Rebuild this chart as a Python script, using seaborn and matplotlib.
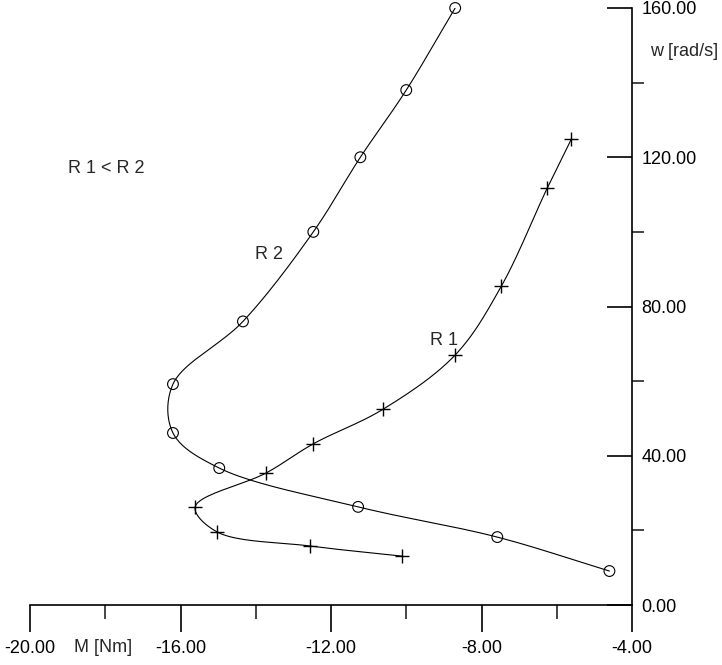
import numpy as np
import matplotlib
matplotlib.use("Agg")
import matplotlib.pyplot as plt
from matplotlib.ticker import FixedLocator
import seaborn as sns

# torque M [Nm] and speed w [rad/s]
r2_m = [-8.70, -10.00, -11.22, -12.47, -14.34, -16.20, -16.20, -14.97, -11.28, -7.58, -4.60]
r2_w = [160.0, 138.0, 120.0, 100.0, 76.0, 59.2, 46.1, 36.7, 26.3, 18.2, 9.1]
r1_m = [-5.61, -6.25, -7.47, -8.70, -10.61, -12.47, -13.72, -15.61, -15.03, -12.55, -10.11]
r1_w = [124.9, 111.8, 85.5, 67.0, 52.5, 43.2, 35.4, 26.3, 19.6, 15.8, 13.1]

x_major = [-20, -16, -12, -8, -4]
x_minor = [-18, -14, -10, -6]
y_major = [0, 40, 80, 120, 160]
y_minor = [20, 60, 100, 140]


def smooth(xs, ys, n=24):
    # centripetal catmull-rom through the points (y scaled to match screen aspect)
    p = np.column_stack([np.asarray(xs, float), np.asarray(ys, float) * 0.1])
    p = np.vstack([2 * p[0] - p[1], p, 2 * p[-1] - p[-2]])
    out = []
    for i in range(1, len(p) - 2):
        p0, p1, p2, p3 = p[i - 1], p[i], p[i + 1], p[i + 2]
        t0 = 0.0
        t1 = t0 + np.linalg.norm(p1 - p0) ** 0.5
        t2 = t1 + np.linalg.norm(p2 - p1) ** 0.5
        t3 = t2 + np.linalg.norm(p3 - p2) ** 0.5
        t = np.linspace(t1, t2, n)[:, None]
        a1 = (t1 - t) / (t1 - t0) * p0 + (t - t0) / (t1 - t0) * p1
        a2 = (t2 - t) / (t2 - t1) * p1 + (t - t1) / (t2 - t1) * p2
        a3 = (t3 - t) / (t3 - t2) * p2 + (t - t2) / (t3 - t2) * p3
        b1 = (t2 - t) / (t2 - t0) * a1 + (t - t0) / (t2 - t0) * a2
        b2 = (t3 - t) / (t3 - t1) * a2 + (t - t1) / (t3 - t1) * a3
        c = (t2 - t) / (t2 - t1) * b1 + (t - t1) / (t2 - t1) * b2
        out.append(c)
    c = np.vstack(out)
    return c[:, 0], c[:, 1] / 0.1


sns.set_style("white")
plt.rcParams['font.family'] = ['Liberation Sans', 'DejaVu Sans']

fig = plt.figure(figsize=(7.22, 6.65), dpi=100)
ax = fig.add_axes([30 / 722, 60 / 665, 602 / 722, 597 / 665])

for xs, ys, mk, size in [(r2_m, r2_w, 'o', 60), (r1_m, r1_w, '+', 110)]:
    sx, sy = smooth(xs, ys)
    sns.lineplot(x=sx, y=sy, sort=False, color='black', linewidth=0.8, ax=ax,
                 estimator=None)
    if mk == 'o':
        sns.scatterplot(x=xs, y=ys, marker='o', s=size, facecolors='none',
                        edgecolor='black', linewidth=0.8, ax=ax, clip_on=False, zorder=3)
    else:
        sns.scatterplot(x=xs, y=ys, marker='+', s=size, color='black',
                        linewidth=1.0, ax=ax, clip_on=False, zorder=3)

ax.set_xlim(-20, -4)
ax.set_ylim(0, 160)

for s in ['top', 'left']:
    ax.spines[s].set_visible(False)
for s in ['bottom', 'right']:
    ax.spines[s].set_linewidth(1.2)
    ax.spines[s].set_color('black')

ax.xaxis.set_major_locator(FixedLocator(x_major))
ax.xaxis.set_minor_locator(FixedLocator(x_minor))
ax.yaxis.set_major_locator(FixedLocator(y_major))
ax.yaxis.set_minor_locator(FixedLocator(y_minor))
ax.yaxis.tick_right()

ax.set_xticklabels([f"{v:.2f}" for v in x_major])
ax.set_yticklabels([f"{v:.2f}" for v in y_major])

ax.tick_params(axis='x', which='major', direction='out', length=19.5, width=1.2,
               pad=6, labelsize=13, colors='black', bottom=True)
ax.tick_params(axis='x', which='minor', direction='out', length=10, width=1.2, bottom=True)
ax.tick_params(axis='y', which='major', direction='in', length=18, width=1.2,
               pad=7, labelsize=13, colors='black', right=True, left=False)
ax.tick_params(axis='y', which='minor', direction='out', length=8.5, width=1.2,
               right=True, left=False)
for lbl in ax.get_yticklabels():
    lbl.set_verticalalignment('center_baseline')

fig.text(103 / 722, 1 - 648 / 665, "M [Nm]", fontsize=13, ha='center', va='center')
fig.text(684 / 722, 1 - 52 / 665, "w [rad/s]", fontsize=13, ha='center', va='center')

ax.text(-18.99, 117, "R 1 < R 2", fontsize=13, ha='left', va='center')
ax.text(-14.02, 94, "R 2", fontsize=13, ha='left', va='center')
ax.text(-9.36, 71, "R 1", fontsize=13, ha='left', va='center')

fig.savefig("out.png", dpi=100)
